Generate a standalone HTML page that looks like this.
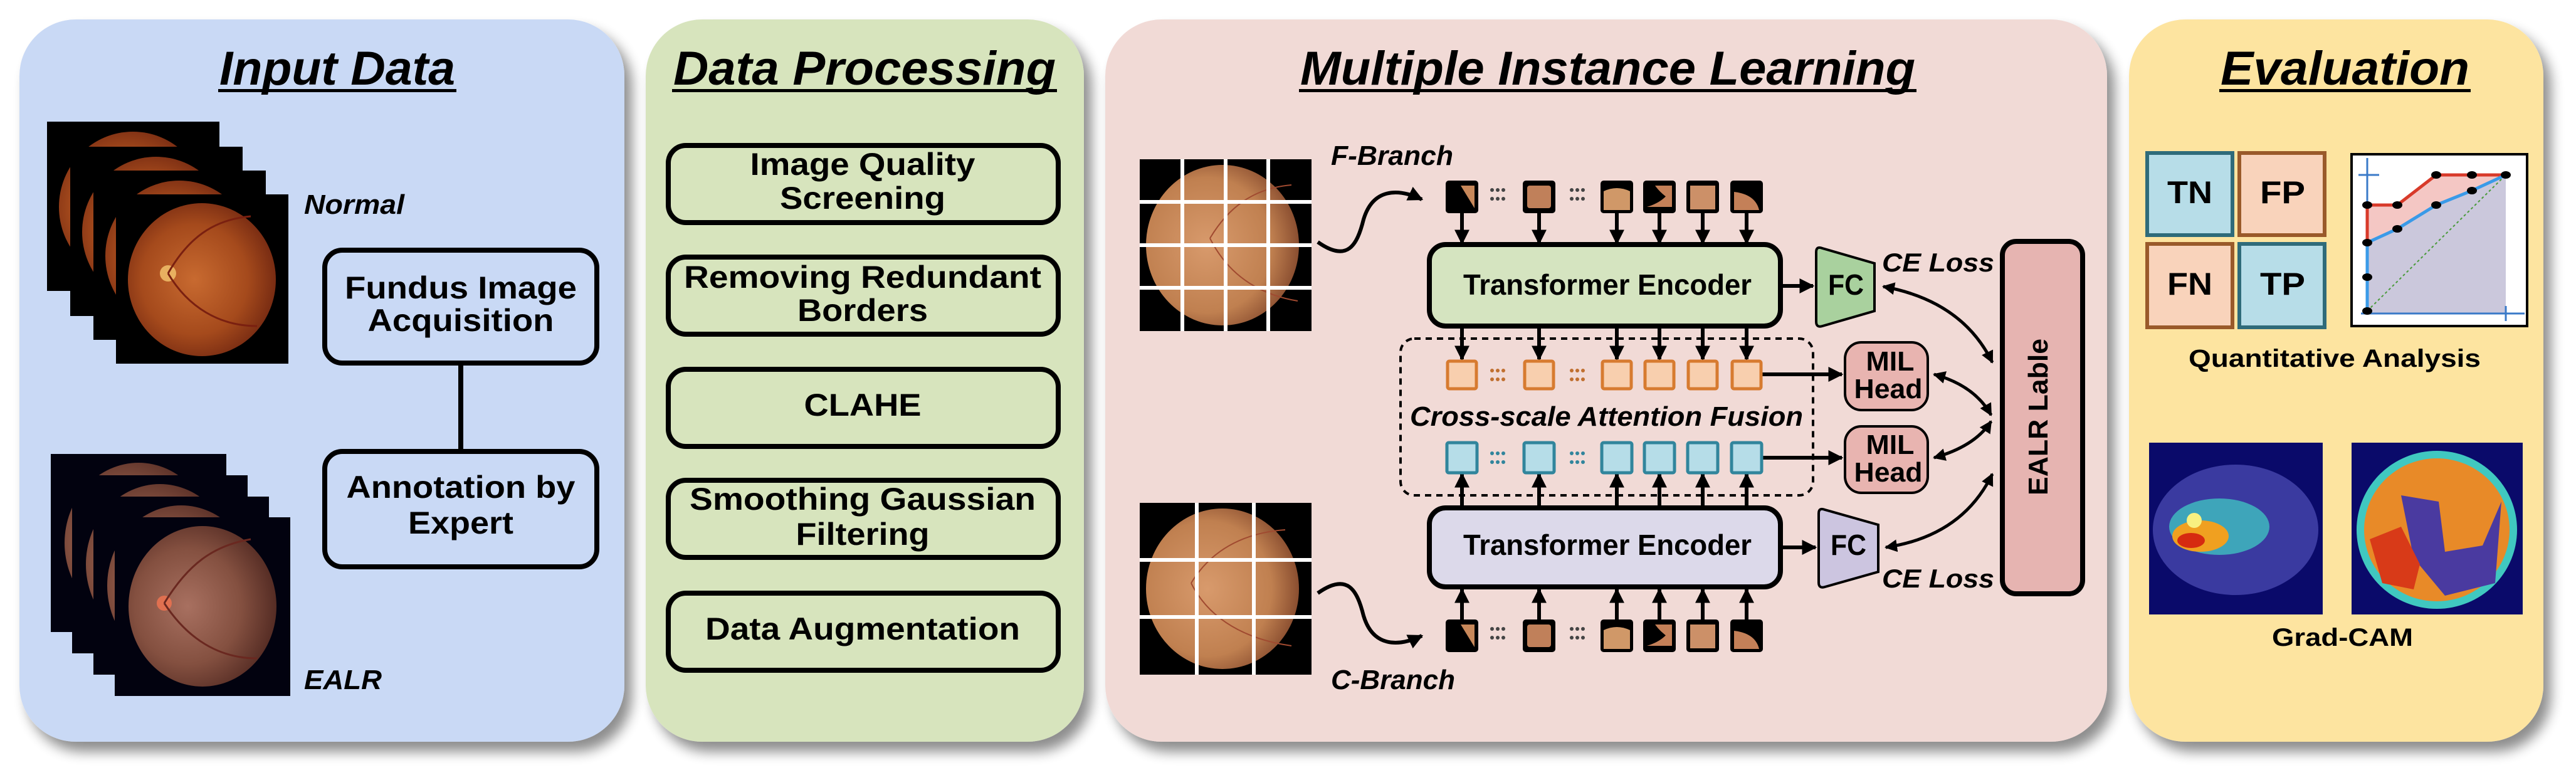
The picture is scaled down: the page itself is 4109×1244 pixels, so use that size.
<!DOCTYPE html>
<html><head><meta charset="utf-8"><style>
html,body{margin:0;padding:0;background:#fff;}
svg{display:block;}
text{font-family:"Liberation Sans",sans-serif;font-weight:bold;fill:#000;}
</style></head><body>
<svg width="4109" height="1244" viewBox="0 0 4109 1244" xmlns="http://www.w3.org/2000/svg">
<defs>
<filter id="sh" x="-10%" y="-10%" width="130%" height="130%"><feGaussianBlur in="SourceAlpha" stdDeviation="10"/><feOffset dx="12" dy="16"/><feComponentTransfer><feFuncA type="linear" slope="0.45"/></feComponentTransfer><feMerge><feMergeNode/><feMergeNode in="SourceGraphic"/></feMerge></filter>
<radialGradient id="fund" cx="0.45" cy="0.5" r="0.6"><stop offset="0" stop-color="#c86a30"/><stop offset="0.6" stop-color="#a54a1c"/><stop offset="1" stop-color="#6d2410"/></radialGradient>
<radialGradient id="fund2" cx="0.4" cy="0.5" r="0.6"><stop offset="0" stop-color="#a87060"/><stop offset="0.6" stop-color="#845040"/><stop offset="1" stop-color="#552c24"/></radialGradient>
<radialGradient id="fund3" cx="0.4" cy="0.5" r="0.6"><stop offset="0" stop-color="#d89a6c"/><stop offset="0.7" stop-color="#c08050"/><stop offset="1" stop-color="#8a4e30"/></radialGradient>
<radialGradient id="cam1" cx="0.3" cy="0.55" r="0.5"><stop offset="0" stop-color="#d62a10"/><stop offset="0.25" stop-color="#f4b020"/><stop offset="0.5" stop-color="#40c0c0"/><stop offset="0.8" stop-color="#3a3aa8"/><stop offset="1" stop-color="#2a2a8c"/></radialGradient>
<radialGradient id="cam2" cx="0.5" cy="0.5" r="0.5"><stop offset="0" stop-color="#5040a8"/><stop offset="0.35" stop-color="#e05a20"/><stop offset="0.7" stop-color="#f0a020"/><stop offset="0.88" stop-color="#40c8c0"/><stop offset="1" stop-color="#2030a0"/></radialGradient>
<marker id="ah" viewBox="0 0 10 10" refX="9" refY="5" markerWidth="4" markerHeight="4" orient="auto-start-reverse"><path d="M0,0 L10,5 L0,10 z" fill="#000"/></marker>
<g id="dots"><circle cx="0" cy="0" r="3"/><circle cx="9" cy="0" r="3"/><circle cx="18" cy="0" r="3"/><circle cx="0" cy="14" r="3"/><circle cx="9" cy="14" r="3"/><circle cx="18" cy="14" r="3"/></g>
</defs>

<!-- panels -->
<rect x="31" y="31" width="965" height="1152" rx="90" fill="#c9d9f5" filter="url(#sh)"/>
<rect x="1030" y="31" width="699" height="1152" rx="90" fill="#d7e4bd" filter="url(#sh)"/>
<rect x="1763" y="31" width="1598" height="1152" rx="90" fill="#f1dad6" filter="url(#sh)"/>
<rect x="3396" y="31" width="661" height="1152" rx="90" fill="#fde4a0" filter="url(#sh)"/>

<!-- titles -->
<g font-style="italic" font-size="76">
<text x="350" y="135" textLength="376" lengthAdjust="spacingAndGlyphs">Input Data</text>
<text x="1074" y="135" textLength="610" lengthAdjust="spacingAndGlyphs">Data Processing</text>
<text x="2074" y="135" textLength="981" lengthAdjust="spacingAndGlyphs">Multiple Instance Learning</text>
<text x="3542" y="135" textLength="397" lengthAdjust="spacingAndGlyphs">Evaluation</text>
</g>
<g fill="#000">
<rect x="348" y="142" width="380" height="5"/>
<rect x="1072" y="142" width="614" height="5"/>
<rect x="2072" y="142" width="985" height="5"/>
<rect x="3540" y="142" width="401" height="5"/>
</g>

<!-- Normal stack -->
<g>
<rect x="75" y="194" width="275" height="270" fill="#000"/><ellipse cx="212" cy="330" rx="118" ry="120" fill="url(#fund)"/>
<rect x="112" y="234" width="275" height="270" fill="#000"/><ellipse cx="249" cy="370" rx="118" ry="120" fill="url(#fund)"/>
<rect x="149" y="272" width="275" height="270" fill="#000"/><ellipse cx="286" cy="408" rx="118" ry="120" fill="url(#fund)"/>
<rect x="185" y="310" width="275" height="270" fill="#000"/><ellipse cx="322" cy="446" rx="118" ry="122" fill="url(#fund)"/>
<circle cx="268" cy="436" r="13" fill="#e8b060"/>
<path d="M268,436 C300,380 340,350 400,345 M268,436 C300,490 350,520 410,520" stroke="#7a2010" stroke-width="3" fill="none"/>
</g>
<g>
<rect x="81" y="724" width="280" height="284" fill="#02020f"/><ellipse cx="221" cy="866" rx="118" ry="128" fill="url(#fund2)"/>
<rect x="115" y="758" width="280" height="284" fill="#02020f"/><ellipse cx="255" cy="900" rx="118" ry="128" fill="url(#fund2)"/>
<rect x="149" y="792" width="280" height="284" fill="#02020f"/><ellipse cx="289" cy="934" rx="118" ry="128" fill="url(#fund2)"/>
<rect x="183" y="825" width="280" height="285" fill="#02020f"/><ellipse cx="323" cy="967" rx="118" ry="128" fill="url(#fund2)"/>
<circle cx="262" cy="962" r="12" fill="#e07050"/>
<path d="M262,962 C300,900 340,870 400,860 M262,962 C300,1020 350,1050 410,1050" stroke="#6a2820" stroke-width="3" fill="none"/>
</g>
<g font-style="italic" font-size="44">
<text x="485" y="341" textLength="160" lengthAdjust="spacingAndGlyphs">Normal</text>
<text x="485" y="1099" textLength="124" lengthAdjust="spacingAndGlyphs">EALR</text>
</g>
<line x1="735" y1="580" x2="735" y2="718" stroke="#000" stroke-width="8"/>
<g fill="#c9d9f5" stroke="#000" stroke-width="8">
<rect x="518" y="399" width="434" height="180" rx="28"/>
<rect x="518" y="720" width="434" height="184" rx="28"/>
</g>
<g font-size="50" text-anchor="middle">
<text x="735" y="476" textLength="370" lengthAdjust="spacingAndGlyphs">Fundus Image</text>
<text x="735" y="528" textLength="297" lengthAdjust="spacingAndGlyphs">Acquisition</text>
<text x="735" y="794" textLength="365" lengthAdjust="spacingAndGlyphs">Annotation by</text>
<text x="735" y="851" textLength="168" lengthAdjust="spacingAndGlyphs">Expert</text>
</g>

<!-- Data processing -->
<g fill="#d7e4bd" stroke="#000" stroke-width="8">
<rect x="1066" y="232" width="622" height="123" rx="28"/>
<rect x="1066" y="410" width="622" height="123" rx="28"/>
<rect x="1066" y="589" width="622" height="123" rx="28"/>
<rect x="1066" y="766" width="622" height="123" rx="28"/>
<rect x="1066" y="946" width="622" height="123" rx="28"/>
</g>
<g font-size="50" text-anchor="middle">
<text x="1376" y="279" textLength="359" lengthAdjust="spacingAndGlyphs">Image Quality</text>
<text x="1376" y="333" textLength="264" lengthAdjust="spacingAndGlyphs">Screening</text>
<text x="1376" y="459" textLength="570" lengthAdjust="spacingAndGlyphs">Removing Redundant</text>
<text x="1376" y="512" textLength="208" lengthAdjust="spacingAndGlyphs">Borders</text>
<text x="1376" y="663" textLength="187" lengthAdjust="spacingAndGlyphs">CLAHE</text>
<text x="1376" y="813" textLength="552" lengthAdjust="spacingAndGlyphs">Smoothing Gaussian</text>
<text x="1376" y="869" textLength="213" lengthAdjust="spacingAndGlyphs">Filtering</text>
<text x="1376" y="1020" textLength="502" lengthAdjust="spacingAndGlyphs">Data Augmentation</text>
</g>

<!-- MIL: fundus grids -->
<rect x="1818" y="254" width="274" height="274" fill="#000"/>
<ellipse cx="1950" cy="391" rx="122" ry="128" fill="url(#fund3)"/>
<path d="M1930,380 C1960,330 2000,300 2060,295 M1930,380 C1960,440 2010,470 2070,480" stroke="#a04a30" stroke-width="2" fill="none"/>
<g stroke="#fff" stroke-width="6">
<line x1="1886" y1="254" x2="1886" y2="528"/><line x1="1955" y1="254" x2="1955" y2="528"/><line x1="2023" y1="254" x2="2023" y2="528"/>
<line x1="1818" y1="322" x2="2092" y2="322"/><line x1="1818" y1="391" x2="2092" y2="391"/><line x1="1818" y1="459" x2="2092" y2="459"/>
</g>
<rect x="1818" y="802" width="274" height="274" fill="#000"/>
<ellipse cx="1950" cy="939" rx="122" ry="128" fill="url(#fund3)"/>
<path d="M1900,930 C1930,880 1980,850 2050,845 M1900,930 C1930,990 1990,1020 2060,1030" stroke="#a04a30" stroke-width="2" fill="none"/>
<g stroke="#fff" stroke-width="6">
<line x1="1909" y1="802" x2="1909" y2="1076"/><line x1="2000" y1="802" x2="2000" y2="1076"/>
<line x1="1818" y1="893" x2="2092" y2="893"/><line x1="1818" y1="984" x2="2092" y2="984"/>
</g>
<g font-style="italic" font-size="44">
<text x="2123" y="263" textLength="195" lengthAdjust="spacingAndGlyphs">F-Branch</text>
<text x="2123" y="1099" textLength="198" lengthAdjust="spacingAndGlyphs">C-Branch</text>
</g>
<g fill="none" stroke="#000" stroke-width="6">
<path d="M2102,386 C2150,420 2165,390 2175,350 C2190,300 2230,300 2268,318" marker-end="url(#ah)"/>
<path d="M2102,946 C2150,912 2165,942 2175,982 C2190,1032 2230,1032 2268,1014" marker-end="url(#ah)"/>
</g>

<!-- patches -->
<g id="ptop">
<rect x="2306" y="288" width="52" height="52" rx="5" fill="#000"/><path d="M2330,296 L2352,296 L2352,332 Z" fill="#c8885a"/>
<rect x="2429" y="288" width="52" height="52" rx="5" fill="#000"/><rect x="2436" y="296" width="38" height="36" rx="4" fill="#c0805a"/>
<rect x="2553" y="288" width="52" height="52" rx="5" fill="#000"/><path d="M2558,305 Q2579,295 2600,305 L2600,335 L2558,335 Z" fill="#d09868"/>
<rect x="2621" y="288" width="52" height="52" rx="5" fill="#000"/><path d="M2627,330 Q2660,320 2667,296 L2667,330 Z" fill="#c48058"/><path d="M2640,296 L2667,296 L2667,320 Q2650,310 2640,296Z" fill="#c48058"/>
<rect x="2690" y="288" width="52" height="52" rx="5" fill="#000"/><rect x="2696" y="296" width="40" height="38" fill="#cc9068"/>
<rect x="2760" y="288" width="52" height="52" rx="5" fill="#000"/><path d="M2766,306 Q2800,310 2806,335 L2766,335 Z" fill="#c48058"/>
</g>
<use href="#ptop" transform="translate(0,700)"/>
<g fill="#444">
<use href="#dots" x="2380" y="303"/><use href="#dots" x="2507" y="303"/>
<use href="#dots" x="2380" y="1003"/><use href="#dots" x="2507" y="1003"/>
</g>

<!-- dashed box -->
<rect x="2234" y="540" width="658" height="250" rx="22" fill="none" stroke="#000" stroke-width="4" stroke-dasharray="10,8"/>

<!-- arrows -->
<g stroke="#000" stroke-width="6" marker-end="url(#ah)">
<line x1="2332" y1="340" x2="2332" y2="388"/><line x1="2455" y1="340" x2="2455" y2="388"/><line x1="2579" y1="340" x2="2579" y2="388"/><line x1="2647" y1="340" x2="2647" y2="388"/><line x1="2716" y1="340" x2="2716" y2="388"/><line x1="2786" y1="340" x2="2786" y2="388"/>
<line x1="2332" y1="522" x2="2332" y2="573"/><line x1="2455" y1="522" x2="2455" y2="573"/><line x1="2579" y1="522" x2="2579" y2="573"/><line x1="2647" y1="522" x2="2647" y2="573"/><line x1="2716" y1="522" x2="2716" y2="573"/><line x1="2786" y1="522" x2="2786" y2="573"/>
<line x1="2332" y1="808" x2="2332" y2="756"/><line x1="2455" y1="808" x2="2455" y2="756"/><line x1="2579" y1="808" x2="2579" y2="756"/><line x1="2647" y1="808" x2="2647" y2="756"/><line x1="2716" y1="808" x2="2716" y2="756"/><line x1="2786" y1="808" x2="2786" y2="756"/>
<line x1="2332" y1="988" x2="2332" y2="940"/><line x1="2455" y1="988" x2="2455" y2="940"/><line x1="2579" y1="988" x2="2579" y2="940"/><line x1="2647" y1="988" x2="2647" y2="940"/><line x1="2716" y1="988" x2="2716" y2="940"/><line x1="2786" y1="988" x2="2786" y2="940"/>
<line x1="2842" y1="456" x2="2892" y2="456"/><line x1="2842" y1="873" x2="2896" y2="873"/>
<line x1="2810" y1="597" x2="2938" y2="597"/><line x1="2810" y1="730" x2="2938" y2="730"/>
</g>

<!-- orange / blue squares -->
<g fill="#f8cfae" stroke="#d77b30" stroke-width="5">
<rect x="2309" y="576" width="46" height="44" rx="3"/><rect x="2432" y="576" width="46" height="44" rx="3"/><rect x="2556" y="576" width="46" height="44" rx="3"/><rect x="2624" y="576" width="46" height="44" rx="3"/><rect x="2693" y="576" width="46" height="44" rx="3"/><rect x="2763" y="576" width="46" height="44" rx="3"/>
</g>
<g fill="#b6dde8" stroke="#31859c" stroke-width="5">
<rect x="2308" y="706" width="48" height="48" rx="3"/><rect x="2431" y="706" width="48" height="48" rx="3"/><rect x="2555" y="706" width="48" height="48" rx="3"/><rect x="2623" y="706" width="48" height="48" rx="3"/><rect x="2692" y="706" width="48" height="48" rx="3"/><rect x="2762" y="706" width="48" height="48" rx="3"/>
</g>
<g fill="#c07030"><use href="#dots" x="2380" y="591"/><use href="#dots" x="2507" y="591"/></g>
<g fill="#31859c"><use href="#dots" x="2380" y="723"/><use href="#dots" x="2507" y="723"/></g>
<text x="2249" y="679" font-style="italic" font-size="44" textLength="627" lengthAdjust="spacingAndGlyphs">Cross-scale Attention Fusion</text>

<!-- encoders -->
<rect x="2280" y="390" width="560" height="130" rx="26" fill="#d5e4c0" stroke="#000" stroke-width="8"/>
<rect x="2280" y="810" width="560" height="126" rx="26" fill="#dcd9ea" stroke="#000" stroke-width="8"/>
<g font-size="46" text-anchor="middle">
<text x="2564" y="470" textLength="460" lengthAdjust="spacingAndGlyphs">Transformer Encoder</text>
<text x="2564" y="885" textLength="460" lengthAdjust="spacingAndGlyphs">Transformer Encoder</text>
</g>
<!-- FC -->
<path d="M2897,402 Q2897,392 2907,396 L2990,420 L2990,496 L2907,520 Q2897,523 2897,513 Z" fill="#a9d19e" stroke="#000" stroke-width="4"/>
<path d="M2901,819 Q2901,809 2911,813 L2996,837 L2996,912 L2911,936 Q2901,939 2901,929 Z" fill="#ccc5e0" stroke="#000" stroke-width="4"/>
<g font-size="46">
<text x="2916" y="470" textLength="57" lengthAdjust="spacingAndGlyphs">FC</text>
<text x="2920" y="885" textLength="57" lengthAdjust="spacingAndGlyphs">FC</text>
</g>
<!-- MIL heads -->
<g fill="#e8b4b0" stroke="#000" stroke-width="4">
<rect x="2943" y="546" width="132" height="108" rx="26"/>
<rect x="2943" y="680" width="132" height="106" rx="26"/>
</g>
<g font-size="44" text-anchor="middle">
<text x="3015" y="591" textLength="77" lengthAdjust="spacingAndGlyphs">MIL</text>
<text x="3012" y="635" textLength="109" lengthAdjust="spacingAndGlyphs">Head</text>
<text x="3015" y="724" textLength="77" lengthAdjust="spacingAndGlyphs">MIL</text>
<text x="3012" y="768" textLength="109" lengthAdjust="spacingAndGlyphs">Head</text>
</g>
<!-- EALR label -->
<rect x="3194" y="385" width="128" height="562" rx="22" fill="#e6b4b1" stroke="#000" stroke-width="8"/>
<text transform="translate(3266,665) rotate(-90)" text-anchor="middle" font-size="44" textLength="250" lengthAdjust="spacingAndGlyphs">EALR Lable</text>
<g font-style="italic" font-size="42">
<text x="3002" y="433" textLength="179" lengthAdjust="spacingAndGlyphs">CE Loss</text>
<text x="3002" y="937" textLength="179" lengthAdjust="spacingAndGlyphs">CE Loss</text>
</g>
<g fill="none" stroke="#000" stroke-width="5" marker-start="url(#ah)" marker-end="url(#ah)">
<path d="M3004,457 Q3130,480 3178,578"/>
<path d="M3085,597 Q3150,615 3176,662"/>
<path d="M3085,730 Q3150,712 3176,672"/>
<path d="M3008,873 Q3130,855 3178,756"/>
</g>

<!-- Evaluation -->
<g stroke-width="6">
<rect x="3425" y="244" width="136" height="131" fill="#b7dde8" stroke="#2f6b7a"/>
<rect x="3572" y="244" width="136" height="131" fill="#f9d3bb" stroke="#9a5a2a"/>
<rect x="3425" y="389" width="136" height="133" fill="#f9d3bb" stroke="#9a5a2a"/>
<rect x="3572" y="389" width="136" height="133" fill="#b7dde8" stroke="#2f6b7a"/>
</g>
<g font-size="50">
<text x="3457" y="324" textLength="72" lengthAdjust="spacingAndGlyphs">TN</text>
<text x="3605" y="324" textLength="72" lengthAdjust="spacingAndGlyphs">FP</text>
<text x="3457" y="470" textLength="72" lengthAdjust="spacingAndGlyphs">FN</text>
<text x="3605" y="470" textLength="72" lengthAdjust="spacingAndGlyphs">TP</text>
</g>
<rect x="3751" y="246" width="280" height="274" fill="#fff" stroke="#000" stroke-width="4"/>
<path d="M3776,496 L3776,327 L3824,327 L3886,279 L3943,279 L3997,279 L3997,500 L3776,500 Z" fill="#f4c7c4"/>
<path d="M3776,496 L3776,387 L3824,365 L3886,327 L3943,304 L3997,279 L3997,500 L3776,500 Z" fill="#cbc8dc"/>
<line x1="3776" y1="496" x2="3997" y2="279" stroke="#4a9a3a" stroke-width="2" stroke-dasharray="4,4"/>
<g stroke="#3a7ac8" stroke-width="3"><line x1="3776" y1="252" x2="3776" y2="500"/><line x1="3766" y1="500" x2="4027" y2="500"/><line x1="3762" y1="279" x2="3795" y2="279"/><line x1="3997" y1="488" x2="3997" y2="512"/></g>
<polyline points="3776,387 3776,327 3824,327 3886,279 3943,279 3997,279" fill="none" stroke="#d83a2a" stroke-width="5"/>
<polyline points="3776,496 3776,387 3824,365 3886,327 3943,304 3997,279" fill="none" stroke="#3a9ae8" stroke-width="5"/>
<g fill="#000">
<ellipse cx="3776" cy="327" rx="8" ry="6"/><ellipse cx="3824" cy="327" rx="8" ry="6"/><ellipse cx="3886" cy="279" rx="8" ry="6"/><ellipse cx="3943" cy="279" rx="8" ry="6"/><ellipse cx="3997" cy="279" rx="8" ry="6"/>
<ellipse cx="3776" cy="496" rx="8" ry="6"/><ellipse cx="3776" cy="442" rx="8" ry="6"/><ellipse cx="3776" cy="387" rx="8" ry="6"/><ellipse cx="3824" cy="365" rx="8" ry="6"/><ellipse cx="3886" cy="327" rx="8" ry="6"/><ellipse cx="3943" cy="304" rx="8" ry="6"/>
</g>
<text x="3491" y="585" font-size="40" textLength="466" lengthAdjust="spacingAndGlyphs">Quantitative Analysis</text>

<rect x="3428" y="706" width="277" height="274" fill="#0a0a6a"/>
<ellipse cx="3566" cy="845" rx="132" ry="104" fill="#3a3aa0"/>
<ellipse cx="3540" cy="840" rx="80" ry="45" fill="#40c0c0" opacity="0.8"/>
<ellipse cx="3510" cy="855" rx="45" ry="25" fill="#f0a020"/>
<ellipse cx="3495" cy="862" rx="22" ry="12" fill="#d62a10"/>
<circle cx="3500" cy="830" r="12" fill="#f8f080"/>
<rect x="3751" y="706" width="273" height="274" fill="#0a0a6a"/>
<ellipse cx="3887" cy="845" rx="128" ry="126" fill="#40c8c0"/>
<ellipse cx="3887" cy="845" rx="116" ry="114" fill="#e88a28"/>
<path d="M3830,790 L3890,800 L3900,880 L3960,870 L3990,800 L3980,930 L3900,950 L3850,890 Z" fill="#4a3aa0"/>
<path d="M3780,860 L3830,840 L3860,900 L3850,940 L3800,930 Z" fill="#d83a18"/>
<text x="3624" y="1030" font-size="40" textLength="225" lengthAdjust="spacingAndGlyphs">Grad-CAM</text>
</svg>
</body></html>
